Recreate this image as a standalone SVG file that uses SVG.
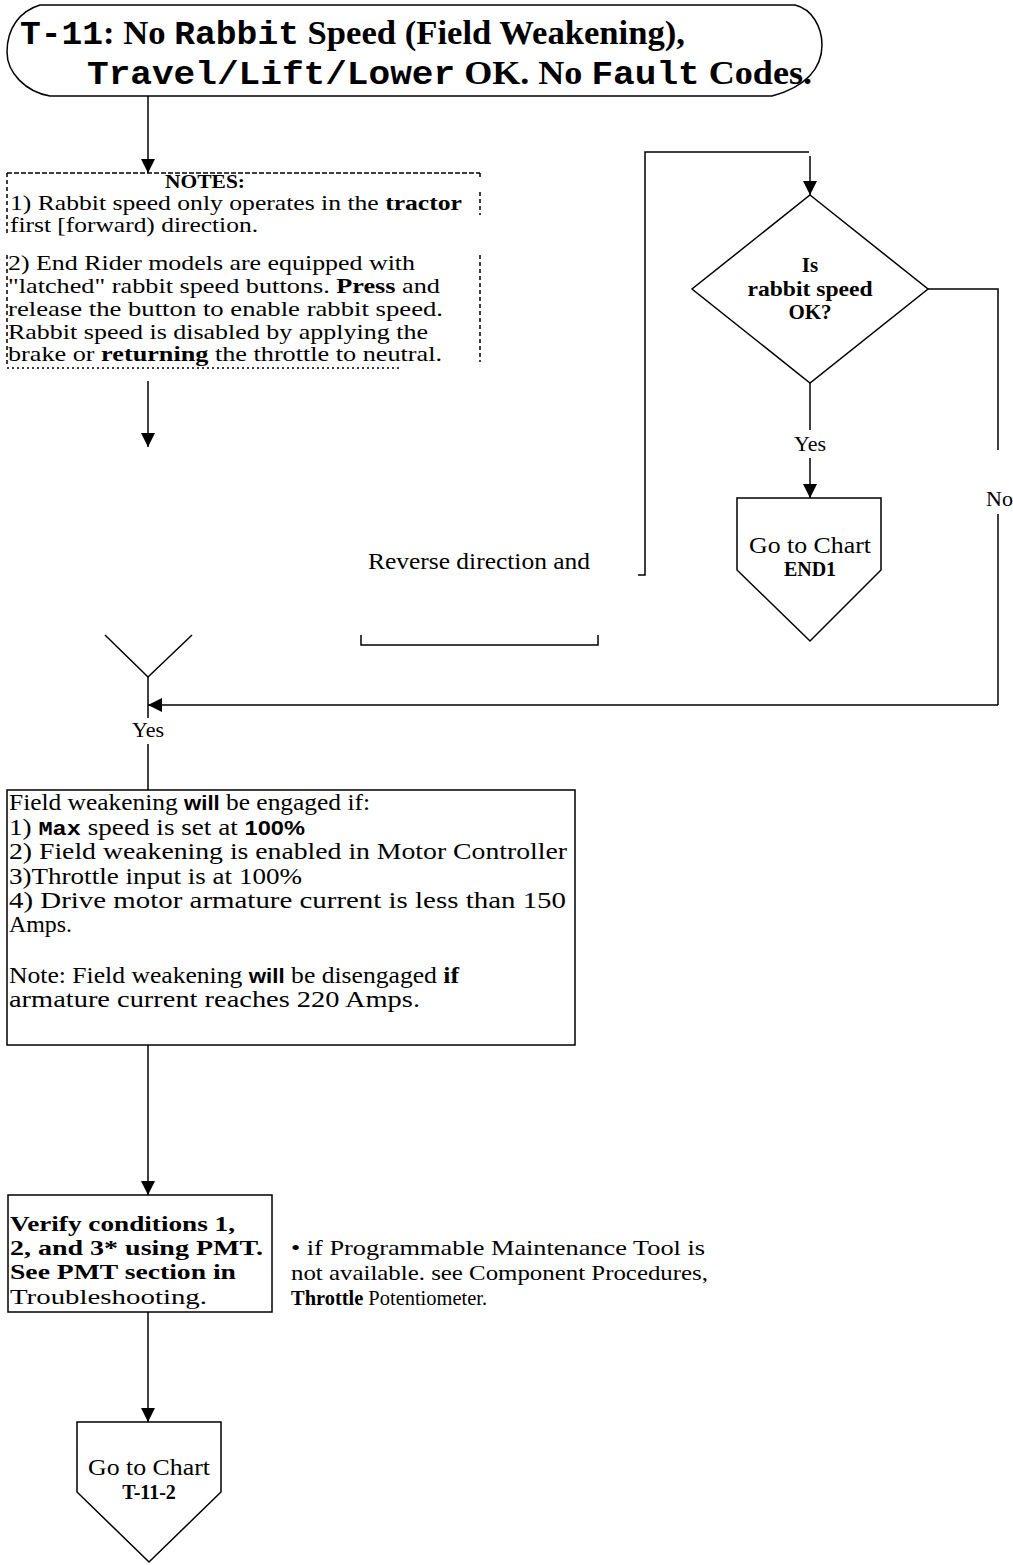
<svg xmlns="http://www.w3.org/2000/svg" width="1013" height="1565" viewBox="0 0 1013 1565">
<style>
.ln{fill:none;stroke:#000;stroke-width:1.5}
.t{font-family:"Liberation Serif",serif;fill:#000}
.b{font-weight:bold}
.m{font-family:"Liberation Mono",monospace;font-weight:bold}
.s{font-family:"Liberation Sans",sans-serif;font-weight:bold}
</style>
<defs>
<marker id="ah" markerUnits="userSpaceOnUse" markerWidth="14" markerHeight="14" refX="14" refY="7" orient="auto">
<path d="M0,0 L14,7 L0,14 Z" fill="#000"/>
</marker>
</defs>
<rect width="1013" height="1565" fill="#fff"/>

<g id="title">
<path class="ln" stroke-width="2" d="M40,5 L795,5 C812,9 822,27 822,45 C822,68 806,87 772,96 L50,96 C26,92 7,73 7,52 C7,28 20,11 40,5 Z"/>
<text class="t b" x="20" y="44" font-size="33" textLength="665" lengthAdjust="spacingAndGlyphs"><tspan class="m">T-11</tspan>: No <tspan class="m">Rabbit</tspan> Speed (Field Weakening),</text>
<text class="t b" x="87" y="84" font-size="33" textLength="725" lengthAdjust="spacingAndGlyphs"><tspan class="m">Travel/Lift/Lower</tspan> OK. No <tspan class="m">Fault</tspan> Codes.</text>
</g>

<g id="notes">
<path class="ln" stroke-width="1.3" stroke-dasharray="5,2" d="M7,173 L480,173"/>
<path class="ln" stroke-width="1.3" stroke-dasharray="4,3" d="M7,173 L7,234 M7,255 L7,365 M480,173 L480,180 M480,192 L480,215 M480,255 L480,362"/>
<path class="ln" stroke-width="2" stroke-dasharray="2,3" d="M7,368 L400,368"/>
<text class="t b" x="205" y="188" font-size="18" text-anchor="middle" textLength="80" lengthAdjust="spacingAndGlyphs">NOTES:</text>
<text class="t" x="10" y="210" font-size="22" textLength="452" lengthAdjust="spacingAndGlyphs">1) Rabbit speed only operates in the <tspan class="b">tractor</tspan></text>
<text class="t" x="10" y="232" font-size="22" textLength="248" lengthAdjust="spacingAndGlyphs">first [forward) direction.</text>
<text class="t" x="8" y="270" font-size="22" textLength="407" lengthAdjust="spacingAndGlyphs">2) End Rider models are equipped with</text>
<text class="t" x="8" y="293" font-size="22" textLength="432" lengthAdjust="spacingAndGlyphs">"latched" rabbit speed buttons. <tspan class="b">Press</tspan> and</text>
<text class="t" x="8" y="316" font-size="22" textLength="435" lengthAdjust="spacingAndGlyphs">release the button to enable rabbit speed.</text>
<text class="t" x="8" y="339" font-size="22" textLength="420" lengthAdjust="spacingAndGlyphs">Rabbit speed is disabled by applying the</text>
<text class="t" x="8" y="361" font-size="22" textLength="434" lengthAdjust="spacingAndGlyphs">brake or <tspan class="b">returning</tspan> the throttle to neutral.</text>
</g>

<g id="decision">
<path class="ln" d="M810,195 L928,289 L810,383 L692,289 Z"/>
<text class="t b" font-size="21" x="810" y="272" text-anchor="middle">Is</text>
<text class="t b" font-size="21" x="810" y="296" text-anchor="middle" textLength="125" lengthAdjust="spacingAndGlyphs">rabbit speed</text>
<text class="t b" font-size="21" x="810" y="319" text-anchor="middle">OK?</text>
</g>

<g id="end1">
<path class="ln" d="M737,498 L881,498 L881,570 L810,641 L737,570 Z"/>
<text class="t" font-size="23" text-anchor="middle" x="810" y="553" textLength="122" lengthAdjust="spacingAndGlyphs">Go to Chart</text>
<text class="t b" font-size="20" text-anchor="middle" x="810" y="576">END1</text>
</g>

<g id="reverse">
<path class="ln" d="M809,152 L645,152 L645,575 L638,575"/>
<path class="ln" d="M361,635 L361,645 L598,645 L598,635"/>
<text class="t" x="368" y="569" font-size="23" textLength="222" lengthAdjust="spacingAndGlyphs">Reverse direction and</text>
</g>

<g id="merge">
<path class="ln" d="M105,635 L148,677 L192,635"/>
</g>

<g id="fieldbox">
<rect class="ln" x="7" y="790" width="568" height="255"/>
<text class="t" x="9" y="810" font-size="23" textLength="361" lengthAdjust="spacingAndGlyphs">Field weakening <tspan class="s" font-size="20">will</tspan> be engaged if:</text>
<text class="t" x="9" y="835" font-size="23" textLength="296" lengthAdjust="spacingAndGlyphs">1) <tspan class="m" font-size="20">Max</tspan> speed is set at <tspan class="s" font-size="20">100%</tspan></text>
<text class="t" x="9" y="859" font-size="23" textLength="558" lengthAdjust="spacingAndGlyphs">2) Field weakening is enabled in Motor Controller</text>
<text class="t" x="9" y="884" font-size="23" textLength="293" lengthAdjust="spacingAndGlyphs">3)Throttle input is at 100%</text>
<text class="t" x="9" y="908" font-size="23" textLength="557" lengthAdjust="spacingAndGlyphs">4) Drive motor armature current is less than 150</text>
<text class="t" x="9" y="932" font-size="23" textLength="63" lengthAdjust="spacingAndGlyphs">Amps.</text>
<text class="t" x="9" y="983" font-size="23" textLength="450" lengthAdjust="spacingAndGlyphs">Note: Field weakening <tspan class="s" font-size="20">will</tspan> be disengaged <tspan class="b">if</tspan></text>
<text class="t" x="9" y="1007" font-size="23" textLength="411" lengthAdjust="spacingAndGlyphs">armature current reaches 220 Amps.</text>
</g>

<g id="verify">
<rect class="ln" x="8" y="1195" width="264" height="117"/>
<text class="t b" x="10" y="1231" font-size="21" textLength="225" lengthAdjust="spacingAndGlyphs">Verify conditions 1,</text>
<text class="t b" x="10" y="1255" font-size="21" textLength="253" lengthAdjust="spacingAndGlyphs">2, and 3* using PMT.</text>
<text class="t b" x="10" y="1279" font-size="21" textLength="226" lengthAdjust="spacingAndGlyphs">See PMT section in</text>
<text class="t" x="10" y="1304" font-size="22" textLength="197" lengthAdjust="spacingAndGlyphs">Troubleshooting.</text>
</g>

<g id="footnote">
<text class="t" x="291" y="1255" font-size="22" textLength="414" lengthAdjust="spacingAndGlyphs">• if Programmable Maintenance Tool is</text>
<text class="t" x="291" y="1280" font-size="22" textLength="417" lengthAdjust="spacingAndGlyphs">not available. see Component Procedures,</text>
<text class="t" x="291" y="1305" font-size="22" textLength="196" lengthAdjust="spacingAndGlyphs"><tspan class="b">Throttle</tspan> Potentiometer.</text>
</g>

<g id="t112">
<path class="ln" d="M77,1422 L221,1422 L221,1492 L149,1562 L77,1492 Z"/>
<text class="t" font-size="23" text-anchor="middle" x="149" y="1475" textLength="122" lengthAdjust="spacingAndGlyphs">Go to Chart</text>
<text class="t b" font-size="20" text-anchor="middle" x="149" y="1499">T-11-2</text>
</g>

<g id="connectors">
<path class="ln" marker-end="url(#ah)" d="M148,96 L148,173"/>
<path class="ln" marker-end="url(#ah)" d="M148,381 L148,447"/>
<path class="ln" marker-end="url(#ah)" d="M810,156 L810,195"/>
<path class="ln" d="M810,383 L810,430"/>
<path class="ln" marker-end="url(#ah)" d="M810,458 L810,498"/>
<text class="t" x="810" y="451" font-size="22" text-anchor="middle">Yes</text>
<path class="ln" d="M928,289 L998,289 L998,450"/>
<text class="t" x="986" y="506" font-size="22">No</text>
<path class="ln" d="M998,514 L998,705"/>
<path class="ln" marker-end="url(#ah)" d="M998,705 L148,705"/>
<path class="ln" d="M148,677 L148,718"/>
<text class="t" x="148" y="737" font-size="22" text-anchor="middle">Yes</text>
<path class="ln" d="M148,744 L148,790"/>
<path class="ln" marker-end="url(#ah)" d="M148,1045 L148,1195"/>
<path class="ln" marker-end="url(#ah)" d="M148,1312 L148,1422"/>
</g>
</svg>
